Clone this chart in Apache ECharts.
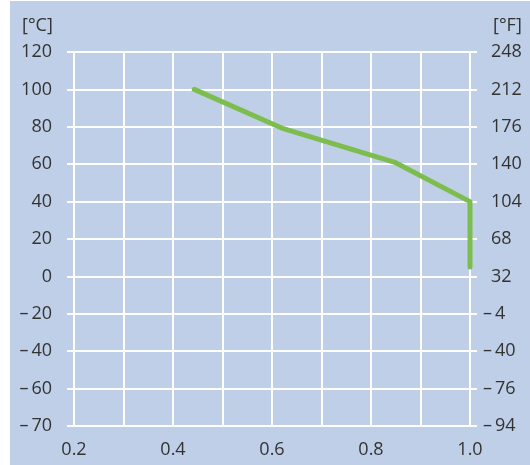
<!DOCTYPE html>
<html><head><meta charset="utf-8">
<script src="https://cdn.jsdelivr.net/npm/echarts@6/dist/echarts.min.js"></script>
<style>html,body{margin:0;padding:0;background:#fff}#c{width:530px;height:465px}</style>
</head><body><div id="c"></div>
<script>
// data
var xValues = [0.443, 0.623, 0.848, 1.0, 1.0];
var tempC = [100, 79, 61, 40, 5];
// tick labels (bottom to top, evenly spaced)
var celsiusLabels = ['\u2013\u200970','\u2013\u200960','\u2013\u200940','\u2013\u200920','0','20','40','60','80','100','120'];
var fahrenheitLabels = ['\u2013\u200994','\u2013\u200976','\u2013\u200940','\u2013\u20094','32','68','104','140','176','212','248'];
var xLabels = ['0.2','0.4','0.6','0.8','1.0'];

var font = '"Open Sans", "Noto Sans", sans-serif';
var txt = '#333333';
function idx(v){ return Math.round((v + 80) / 20); }
var chart = echarts.init(document.getElementById('c'), null, {renderer:'canvas'});
chart.setOption({
  animation:false,
  backgroundColor:'#ffffff',
  graphic:[
    {type:'rect', z:-10, shape:{x:10,y:1,width:520,height:464}, style:{fill:'#bfcfe7'}},
    {type:'text', left:22, top:17, style:{text:'[°C]', font:'18px '+font, fill:txt}},
    {type:'text', left:493, top:17, style:{text:'[°F]', font:'18px '+font, fill:txt}}
  ],
  grid:{left:74, right:60, top:52, bottom:39},
  xAxis:{
    type:'value', min:0.2, max:1.0, interval:0.1,
    axisLine:{show:false},
    axisTick:{show:true, length:4, lineStyle:{color:'#ffffff', width:2}},
    splitLine:{show:true, lineStyle:{color:'#ffffff', width:2}},
    axisLabel:{margin:15, color:txt, fontFamily:font, fontSize:18,
      formatter:function(v){ var k=Math.round(v*10); return k%2===0 ? xLabels[(k-2)/2] : ''; }}
  },
  yAxis:[{
    type:'value', min:-80, max:120, interval:20,
    axisLine:{show:false},
    axisTick:{show:true, length:7, lineStyle:{color:'#ffffff', width:2}},
    splitLine:{show:true, lineStyle:{color:'#ffffff', width:2}},
    axisLabel:{margin:22, color:txt, fontFamily:font, fontSize:18,
      formatter:function(v){ return celsiusLabels[idx(v)]; }}
  },{
    type:'value', min:-80, max:120, interval:20, position:'right',
    axisLine:{show:false},
    axisTick:{show:true, length:7, lineStyle:{color:'#ffffff', width:2}},
    splitLine:{show:false},
    axisLabel:{margin:13, align:'left', color:txt, fontFamily:font, fontSize:18,
      rich:{s:{width:8, fontSize:18, fontFamily:font}, n:{color:txt, fontFamily:font, fontSize:18}},
      formatter:function(v){
        var t = fahrenheitLabels[idx(v)];
        return t.charAt(0) === '\u2013' ? '{n|' + t + '}' : '{s| }{n|' + t + '}';
      }}
  }],
  series:[{
    type:'line',
    data:xValues.map(function(x,i){return [x,tempC[i]];}),
    showSymbol:false, symbol:'none',
    lineStyle:{color:'#7dbd4e', width:5, cap:'round', join:'round'}
  }]
});
</script></body></html>
